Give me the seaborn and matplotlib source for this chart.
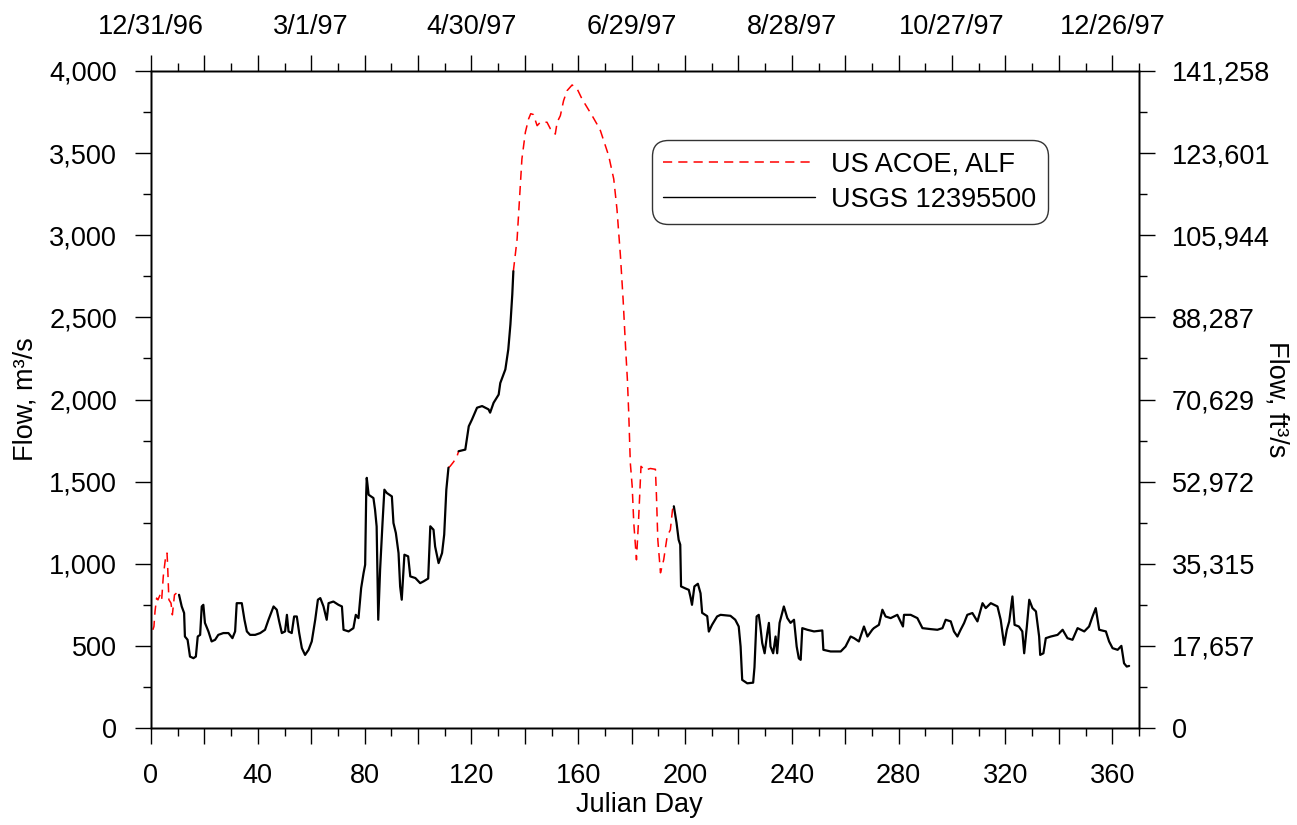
import numpy as np
import pandas as pd
import matplotlib
matplotlib.use("Agg")
import matplotlib.pyplot as plt
import seaborn as sns
from matplotlib.lines import Line2D
from matplotlib.ticker import FixedLocator, MultipleLocator, FuncFormatter

# ---------------- data ----------------
nan = float("nan")

# USGS 12395500 (solid black); NaN separates gaps
usgs_day = [
    10.5, 11.5, 12.4, 12.7, 13.7, 14.6, 15.9, 16.8, 17.5, 18.4, 19.0, 19.6, 20.2, 21.5, 22.7,
    24.0, 25.2, 27.1, 29.0, 30.5, 31.5, 32.1, 34.0, 35.0, 35.9, 37.1, 39.0, 40.9, 42.7, 44.0,
    45.9, 47.1, 48.0, 49.0, 50.2, 50.9, 51.5, 52.7, 53.6, 54.6, 55.5, 56.5, 57.7, 59.0, 60.2,
    61.5, 62.5, 63.4, 64.6, 65.8, 66.5, 68.3, 70.2, 71.5, 72.1, 74.0, 75.8, 76.7, 77.7, 78.7,
    79.6, 80.2, 80.6, 80.8, 81.5, 83.3, 83.9, 84.5, 85.1, 85.8, 86.7, 87.4, 88.3, 90.2, 90.8,
    91.7, 92.7, 93.3, 93.9, 94.9, 96.3, 97.1, 99.0, 100.8, 102.1, 103.8, 104.6, 105.8, 106.4,
    107.7, 109.0, 109.8, 110.6, 111.4,
    nan,
    115.2, 117.7, 119.0, 120.2, 122.1, 124.0, 126.4, 127.0, 128.3, 130.2, 130.8, 132.7, 133.8,
    134.6, 135.3, 135.7,
    nan,
    195.8, 196.8, 197.6, 198.2, 198.5, 200.1, 201.4, 202.0, 202.6, 203.5, 204.8, 205.8, 206.4,
    208.3, 208.9, 210.1, 212.0, 213.3, 217.0, 218.8, 220.1, 220.8, 221.4, 223.3, 225.5, 226.0,
    226.8, 227.6, 228.2, 228.9, 229.8, 230.8, 231.4, 232.0, 233.0, 233.9, 234.5, 235.4, 237.0,
    238.3, 239.5, 240.8, 241.8, 242.6, 243.3, 243.9, 245.8, 248.3, 251.4, 251.8, 254.5, 258.3,
    260.1, 262.0, 263.3, 265.1, 267.0, 268.3, 270.1, 270.7, 272.6, 273.9, 275.1, 277.0, 279.5,
    281.6, 282.0, 284.5, 287.0, 288.9, 292.0, 294.5, 296.4, 297.6, 299.5, 300.7, 302.0, 303.2,
    304.5, 305.7, 307.6, 309.5, 311.4, 312.6, 314.5, 317.0, 318.2, 319.5, 320.5, 321.4, 322.6,
    323.4, 325.0, 326.3, 327.0, 328.0, 328.9, 330.1, 331.4, 332.6, 333.0, 334.2, 335.1, 337.0,
    339.5, 341.4, 343.2, 345.1, 347.0, 349.5, 351.3, 352.6, 353.8, 355.1, 357.6, 358.8, 360.1,
    362.0, 363.4, 364.4, 365.4, 366.3,
]
usgs_flow = [
    811, 740, 700, 557, 537, 435, 425, 435, 557, 567, 740, 750, 640, 588, 527,
    537, 567, 578, 578, 547, 588, 760, 760, 659, 588, 567, 567, 578, 598, 659,
    740, 720, 649, 578, 588, 689, 588, 578, 679, 679, 578, 486, 445, 476, 527,
    659, 781, 791, 740, 659, 760, 770, 750, 740, 598, 588, 608, 689, 669, 852,
    943, 994, 1431, 1523, 1420, 1400, 1329, 1227, 659, 964, 1248, 1451, 1431, 1410, 1248,
    1187, 1065, 862, 781, 1055, 1045, 923, 913, 882, 893, 910, 1228, 1207, 1105,
    1004, 1065, 1177, 1451, 1585,
    nan,
    1685, 1695, 1837, 1878, 1950, 1960, 1940, 1920, 1980, 2030, 2100, 2183, 2305,
    2457, 2640, 2781,
    nan,
    1350, 1250, 1146, 1116, 862, 850, 841, 800, 750, 862, 878, 820, 701,
    681, 587, 628, 679, 689, 683, 659, 618, 496, 293, 272, 276, 370,
    679, 689, 618, 517, 455, 578, 640, 496, 455, 557, 455, 640, 740,
    669, 640, 659, 496, 424, 415, 608, 598, 588, 594, 476, 466, 466,
    496, 557, 547, 527, 618, 557, 598, 608, 628, 720, 679, 669, 689,
    618, 689, 689, 669, 608, 602, 598, 608, 659, 649, 588, 557, 598,
    639, 689, 700, 649, 760, 730, 760, 740, 659, 506, 598, 649, 801,
    628, 618, 588, 455, 618, 781, 730, 710, 557, 445, 455, 547, 557,
    567, 598, 547, 537, 608, 588, 618, 679, 730, 598, 588, 527, 486,
    476, 500, 394, 374, 378,
]

# US ACOE, ALF (dashed red)
acoe_day = [
    0.7, 1.1, 1.5, 2.1, 2.6, 3.4, 4.0, 4.6, 5.5, 6.0, 6.2, 6.7, 7.5, 8.0, 8.8, 9.6, 10.2, 10.6,
    nan,
    111.4, 112.0, 113.3, 114.6, 115.2,
    nan,
    135.7, 137.1, 138.0, 138.9, 140.2, 141.4, 142.2, 143.2, 144.6, 145.8, 148.3, 149.6, 151.4,
    152.1, 153.3, 154.5, 155.8, 157.7, 159.6, 161.4, 163.3, 165.2, 167.0, 168.3, 171.4, 173.3,
    174.5, 175.8, 176.8, 177.7, 178.4, 178.9, 179.5, 180.2, 180.8, 181.8, 182.6, 183.5, 185.0,
    187.0, 188.9, 189.3, 189.8, 190.8, 192.0, 193.3, 194.5, 195.3, 195.8,
]
acoe_flow = [
    598, 618, 709, 791, 780, 811, 781, 923, 1045, 1065, 1001, 781, 760, 689, 811, 822, 800, 811,
    nan,
    1585, 1593, 1620, 1654, 1685,
    nan,
    2781, 2976, 3220, 3464, 3627, 3708, 3740, 3735, 3667, 3688, 3688, 3647, 3616,
    3688, 3728, 3819, 3880, 3915, 3891, 3830, 3779, 3728, 3677, 3637, 3484, 3342,
    3159, 2874, 2610, 2325, 2122, 1920, 1614, 1472, 1248, 1024, 1268, 1593, 1570,
    1580, 1575, 1410, 1146, 945, 1024, 1167, 1207, 1329, 1350,
]

m3s_ticks = [0, 500, 1000, 1500, 2000, 2500, 3000, 3500, 4000]
ft3s_ticks = [0, 17657, 35315, 52972, 70629, 88287, 105944, 123601, 141258]
top_tick_days = [0, 60, 120, 180, 240, 300, 360]
top_tick_labels = ["12/31/96", "3/1/97", "4/30/97", "6/29/97", "8/28/97", "10/27/97", "12/26/97"]

series_labels = ["US ACOE, ALF", "USGS 12395500"]


def to_frame(days, flows):
    d = np.asarray(days, dtype=float)
    f = np.asarray(flows, dtype=float)
    seg = np.cumsum(np.isnan(f))
    df = pd.DataFrame({"day": d, "flow": f, "seg": seg})
    return df.dropna().reset_index(drop=True)


usgs_df = to_frame(usgs_day, usgs_flow)
acoe_df = to_frame(acoe_day, acoe_flow)

# ---------------- style ----------------
sns.set_theme(style="ticks", rc={
    "axes.edgecolor": "black", "xtick.color": "black", "ytick.color": "black",
    "axes.linewidth": 1.0, "text.color": "black", "axes.labelcolor": "black",
})
plt.rcParams["font.family"] = ["Liberation Sans", "DejaVu Sans"]
FS = 19.5

W, H = 1297, 825
fig = plt.figure(figsize=(W / 100, H / 100), dpi=100)
L, R, T, B = 151, 1139, 71, 728
ax = fig.add_axes([L / W, 1 - B / H, (R - L) / W, (B - T) / H])

sns.lineplot(data=acoe_df, x="day", y="flow", units="seg", estimator=None, sort=False,
             color="#ff0000", lw=1.1, linestyle=(0, (6, 4)), legend=False, ax=ax, zorder=2)
sns.lineplot(data=usgs_df, x="day", y="flow", units="seg", estimator=None, sort=False,
             color="black", lw=1.6, legend=False, ax=ax, zorder=3)

ax.set_xlim(0, 370)
ax.set_ylim(0, 4000)

# bottom x axis
ax.xaxis.set_major_locator(FixedLocator(list(range(0, 371, 20))))
ax.xaxis.set_minor_locator(MultipleLocator(10))
ax.xaxis.set_major_formatter(FuncFormatter(lambda v, p: f"{int(round(v))}" if round(v) % 40 == 0 else ""))
# left y axis
ax.yaxis.set_major_locator(FixedLocator(m3s_ticks))
ax.yaxis.set_minor_locator(MultipleLocator(250))
ax.yaxis.set_major_formatter(FuncFormatter(lambda v, p: f"{int(round(v)):,}"))

ax.tick_params(axis="both", which="major", direction="out", length=11.5, width=1.0, labelsize=FS)
ax.tick_params(axis="both", which="minor", direction="out", length=5.8, width=1.0)
ax.tick_params(axis="x", which="major", pad=14)
ax.tick_params(axis="y", which="major", pad=13)

ax.set_xlabel("Julian Day", fontsize=FS)
ax.xaxis.set_label_coords((639 - L) / (R - L), -0.097)
ax.set_ylabel("Flow, m³/s", fontsize=FS)
ax.yaxis.set_label_coords((38 - L) / (R - L), 0.5)

# right y axis (ft3/s)
ax2 = ax.twinx()
ax2.set_ylim(ft3s_ticks[0], ft3s_ticks[-1])
ax2.yaxis.set_major_locator(FixedLocator(ft3s_ticks))
ax2.yaxis.set_minor_locator(FixedLocator([(a + b) / 2 for a, b in zip(ft3s_ticks[:-1], ft3s_ticks[1:])]))
ax2.yaxis.set_major_formatter(FuncFormatter(lambda v, p: f"{int(round(v)):,}"))
ax2.tick_params(axis="y", which="major", direction="out", length=11.5, width=1.0, labelsize=FS, pad=12)
ax2.tick_params(axis="y", which="minor", direction="out", length=5.8, width=1.0)
ax2.set_ylabel("Flow, ft³/s", fontsize=FS, rotation=270, va="bottom")
ax2.yaxis.set_label_coords((1264 - L) / (R - L), 0.5)

# top x axis (dates)
ax3 = ax.twiny()
ax3.set_xlim(0, 370)
ax3.xaxis.set_major_locator(FixedLocator(list(range(0, 371, 20))))
ax3.xaxis.set_minor_locator(MultipleLocator(10))
top_map = dict(zip(top_tick_days, top_tick_labels))
ax3.xaxis.set_major_formatter(FuncFormatter(lambda v, p: top_map.get(int(round(v)), "")))
ax3.tick_params(axis="x", which="major", direction="out", length=11.5, width=1.0, labelsize=FS, pad=11)
ax3.tick_params(axis="x", which="minor", direction="out", length=5.8, width=1.0)

for a in (ax, ax2, ax3):
    for s in a.spines.values():
        s.set_visible(True)
        s.set_color("black")
        s.set_linewidth(1.0)

# legend
handles = [
    Line2D([], [], color="#ff0000", lw=1.1, linestyle=(0, (6, 4))),
    Line2D([], [], color="black", lw=1.0),
]
leg = ax3.legend(handles, series_labels, loc="upper left",
                 bbox_to_anchor=((652 - L) / (R - L), (B - 140) / (B - T)),
                 borderaxespad=0, fontsize=FS, frameon=True, fancybox=True,
                 handlelength=5.6, handletextpad=0.6, labelspacing=0.35, borderpad=0.42)
frame = leg.get_frame()
frame.set_boxstyle("round", pad=0, rounding_size=0.6)
frame.set_edgecolor("#333333")
frame.set_linewidth(1.0)
frame.set_facecolor("white")
frame.set_alpha(1)

fig.savefig("out.png", dpi=100)
